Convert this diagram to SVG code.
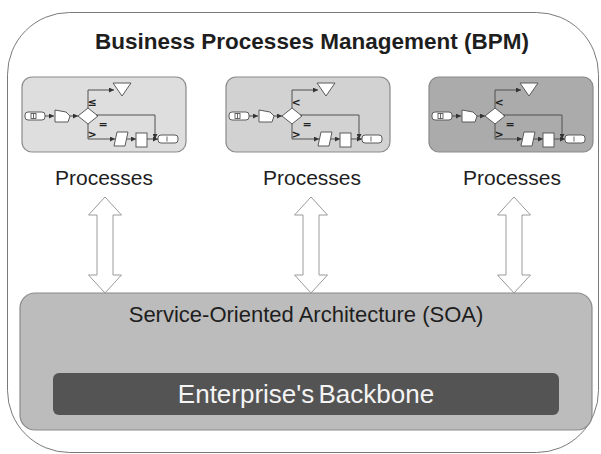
<svg xmlns="http://www.w3.org/2000/svg" xmlns:xlink="http://www.w3.org/1999/xlink" width="601" height="454" viewBox="0 0 601 454">
<style>
.lbl{font-family:"Liberation Sans",Arial,sans-serif;fill:#1e1e1e;text-anchor:middle}
.title{font-size:22.5px;font-weight:bold}
.proc{font-size:21px}
.soa{font-size:22px}
.bb{font-size:26px;fill:#f4f4f4;word-spacing:-3px}
.pbox{stroke:#8a8a8a;stroke-width:1.2}
.fl{fill:none;stroke:#505050;stroke-width:1}
.fs{fill:#fff;stroke:#5a5a5a;stroke-width:1}
.sym{font-family:"DejaVu Sans",sans-serif;font-size:11px;font-weight:bold;fill:#222;text-anchor:middle}
.dbl{fill:#fff;stroke:#9a9a9a;stroke-width:1}
</style>
<defs>
<marker id="ah" viewBox="0 0 6 6" refX="6" refY="3" markerWidth="5" markerHeight="5" orient="auto" markerUnits="userSpaceOnUse">
<path d="M0,0 L6,3 L0,6 Z" fill="#333"/>
</marker>
<g id="flow">
<rect class="fs" x="3" y="35" width="20" height="8" rx="3"/>
<rect x="9" y="36.5" width="5" height="5" fill="none" stroke="#444" stroke-width="0.8"/>
<line x1="11.5" y1="36.5" x2="11.5" y2="41.5" stroke="#444" stroke-width="0.8"/>
<line class="fl" x1="23" y1="39" x2="32" y2="39" marker-end="url(#ah)"/>
<path class="fs" d="M33,33 L44,35 L48,39 L46,45 L33,45 Z"/>
<line class="fl" x1="48" y1="39" x2="56" y2="39" marker-end="url(#ah)"/>
<path class="fs" d="M56,39 L66,31 L76,39 L66,47 Z"/>
<path class="fl" d="M66,31 V13 H92" marker-end="url(#ah)"/>
<path class="fs" d="M91,6 L109,6 L100,19 Z"/>
<path class="fl" d="M74,38 H133 V62" marker-end="url(#ah)"/>
<path class="fl" d="M66,47 V62 H93" marker-end="url(#ah)"/>
<path class="fs" d="M95,55 L106,55 L103,69 L92,69 Z"/>
<line class="fl" x1="105" y1="62" x2="114" y2="62" marker-end="url(#ah)"/>
<rect class="fs" x="114" y="56" width="11" height="14"/>
<line class="fl" x1="125" y1="62" x2="136" y2="62" marker-end="url(#ah)"/>
<rect class="fs" x="136" y="58" width="20" height="8" rx="3"/>
<line x1="145" y1="59.5" x2="145" y2="64.5" stroke="#444" stroke-width="0.8"/>
<text class="sym" x="81" y="51">=</text>
<text class="sym" x="70" y="61">&gt;</text>
</g>
</defs>

<g id="bpm">
<rect x="7.5" y="12.5" width="591" height="440" rx="62" fill="#fff" stroke="#7a7a7a" stroke-width="1"/>
<text class="lbl title" x="312" y="49">Business Processes Management (BPM)</text>
</g>

<g id="proc1">
<rect class="pbox" x="22" y="77" width="164" height="75" rx="10" fill="#dedede"/>
<g transform="translate(22,77)"><use xlink:href="#flow" href="#flow"/><text class="sym" x="70" y="29">≤</text></g>
<text class="lbl proc" x="104" y="185">Processes</text>
</g>

<g id="proc2">
<rect class="pbox" x="226" y="77" width="164" height="75" rx="10" fill="#d2d2d2"/>
<g transform="translate(226,77)"><use xlink:href="#flow" href="#flow"/><text class="sym" x="70" y="29">&lt;</text></g>
<text class="lbl proc" x="312" y="185">Processes</text>
</g>

<g id="proc3">
<rect class="pbox" x="429" y="77" width="164" height="75" rx="10" fill="#ababab"/>
<g transform="translate(429,77)"><use xlink:href="#flow" href="#flow"/><text class="sym" x="70" y="29">&lt;</text></g>
<text class="lbl proc" x="512" y="185">Processes</text>
</g>

<g id="soa">
<rect x="20" y="293" width="572" height="137" rx="15" fill="#bcbcbc" stroke="#8a8a8a" stroke-width="1.2"/>
<text class="lbl soa" x="306" y="322">Service-Oriented Architecture (SOA)</text>
</g>

<g id="backbone">
<rect x="53" y="373" width="506" height="42" rx="6" fill="#545454"/>
<text class="lbl bb" x="306" y="403">Enterprise's Backbone</text>
</g>

<g id="connectors">
<path class="dbl" d="M105,197 L121.5,215 L113,215 L113,275 L121.5,275 L105,293 L88.5,275 L97,275 L97,215 L88.5,215 Z"/>
<path class="dbl" d="M311,197 L327.5,215 L319,215 L319,275 L327.5,275 L311,293 L294.5,275 L303,275 L303,215 L294.5,215 Z"/>
<path class="dbl" d="M514,197 L530.5,215 L522,215 L522,275 L530.5,275 L514,293 L497.5,275 L506,275 L506,215 L497.5,215 Z"/>
</g>
</svg>
